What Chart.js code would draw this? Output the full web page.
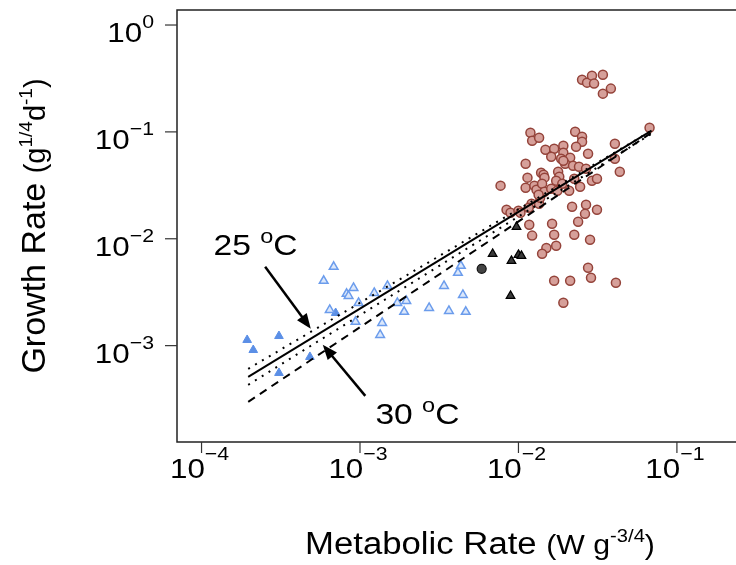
<!DOCTYPE html>
<html>
<head>
<meta charset="utf-8">
<script src="https://cdn.jsdelivr.net/npm/chart.js@4.4.1/dist/chart.umd.min.js"></script>
<style>
  html, body { margin: 0; padding: 0; background: #fff; }
</style>
</head>
<body>
<canvas id="myChart" width="736" height="565"></canvas>
<script>
'use strict';

// tick values and their exponent labels
const xTickValues = [1e-4, 1e-3, 1e-2, 1e-1];
const xTickExps = ['\u22124', '\u22123', '\u22122', '\u22121'];
const yTickValues = [1, 0.1, 0.01, 0.001];
const yTickExps = ['0', '\u22121', '\u22122', '\u22123'];

// brown circles
const circleX = [0.0252, 0.0271, 0.0291, 0.0300, 0.0341, 0.0383, 0.0341, 0.0119, 0.0122, 0.0135,
  0.0228, 0.0252, 0.0252, 0.0231, 0.0148, 0.0168, 0.0161, 0.0192, 0.0192, 0.0186,
  0.0212, 0.0197, 0.0221, 0.0241, 0.0267, 0.0275, 0.0406, 0.0406, 0.0436, 0.0672,
  0.0111, 0.0139, 0.0144, 0.0146, 0.0114, 0.0178, 0.0181, 0.0173, 0.0189, 0.0225,
  0.0245, 0.0291, 0.0313, 0.00771, 0.0111, 0.0126, 0.0130, 0.0141, 0.0146, 0.0161,
  0.0176, 0.0209, 0.0121, 0.0135, 0.0137, 0.0218, 0.0267, 0.0263, 0.0313, 0.00841,
  0.00891, 0.0100, 0.0103, 0.0238, 0.0117, 0.0163, 0.0122, 0.0168, 0.0225, 0.0283,
  0.0173, 0.0150, 0.0141, 0.0275, 0.0287, 0.0168, 0.0212, 0.0412, 0.0192, 0.0134,
  0.0116, 0.0192];
const circleY = [0.308, 0.289, 0.336, 0.283, 0.343, 0.254, 0.228, 0.0983, 0.0827, 0.0883,
  0.1004, 0.0902, 0.0809, 0.0727, 0.0681, 0.0696, 0.0586, 0.0743, 0.0639, 0.0561,
  0.0573, 0.0504, 0.0483, 0.0472, 0.0452, 0.0625, 0.0775, 0.0561, 0.0424, 0.1095,
  0.0504, 0.0415, 0.0397, 0.0373, 0.0373, 0.0424, 0.0381, 0.0349, 0.0327, 0.0365,
  0.0307, 0.0349, 0.0365, 0.0314, 0.0300, 0.0314, 0.0288, 0.0327, 0.0275, 0.0294,
  0.0281, 0.0281, 0.0213, 0.0213, 0.0242, 0.0199, 0.0208, 0.0171, 0.0187, 0.0187,
  0.0175, 0.0183, 0.0175, 0.0144, 0.0135, 0.0138, 0.0107, 0.0109, 0.0109, 0.0098,
  0.0086, 0.0082, 0.00724, 0.00535, 0.00431, 0.00404, 0.00404, 0.00387, 0.00252, 0.0258,
  0.0195, 0.0537];

// open blue triangles
const openTriX = [6.82e-4, 5.90e-4, 6.44e-4, 8.23e-4, 8.47e-4, 9.10e-4, 9.79e-4, 9.37e-4, 1.23e-3, 1.49e-3,
  1.38e-3, 1.34e-3, 1.72e-3, 1.96e-3, 1.90e-3, 2.73e-3, 3.39e-3, 4.33e-3, 4.15e-3, 4.46e-3,
  3.64e-3, 4.65e-3];
const openTriY = [5.46e-3, 4.04e-3, 2.16e-3, 3.05e-3, 2.92e-3, 3.47e-3, 2.51e-3, 1.67e-3, 3.11e-3, 3.62e-3,
  1.63e-3, 1.26e-3, 2.51e-3, 2.62e-3, 2.07e-3, 2.25e-3, 3.62e-3, 5.58e-3, 4.80e-3, 2.98e-3,
  2.11e-3, 2.07e-3];

// filled blue triangles
const fillTriX = [1.94e-4, 2.12e-4, 3.08e-4, 3.08e-4, 4.83e-4, 7.02e-4];
const fillTriY = [1.13e-3, 9.1e-4, 1.23e-3, 5.55e-4, 7.84e-4, 2.02e-3];

// black triangles and black circle
const blackTriX = [9.72e-3, 6.87e-3, 0.0100, 0.01044, 9.03e-3, 8.91e-3];
const blackTriY = [0.01292, 7.22e-3, 7.07e-3, 6.92e-3, 6.21e-3, 2.92e-3];
const blackDotX = [5.86e-3];
const blackDotY = [5.23e-3];

// fitted lines (end points)
const fitX = [1.97e-4, 0.0692];
const fit25Y = [5.10e-4, 0.1026];
const fit30Y = [2.98e-4, 0.0983];
const upperY = [6.07e-4, 0.1026];
const lowerY = [4.30e-4, 0.0962];

// annotations
const arrow25 = [[2.52e-4, 5.47e-3], [4.89e-4, 1.44e-3]];
const arrow30 = [[1.08e-3, 3.39e-4], [5.82e-4, 1.02e-3]];
const label25 = [1.19e-4, 7.08e-3];
const label30 = [1.251e-3, 1.853e-4];

const SX = 1.12;
const FONT = '"Liberation Sans", Arial, Helvetica, sans-serif';

function pts(xs, ys) {
  return xs.map((x, i) => ({ x: x, y: ys[i] }));
}

function drawParts(ctx, parts, x, y, align, rotate) {
  let w = 0;
  parts.forEach(p => {
    ctx.font = p[1] + 'px ' + FONT;
    w += ctx.measureText(p[0]).width;
  });
  ctx.save();
  ctx.translate(x, y);
  if (rotate) ctx.rotate(-Math.PI / 2);
  else ctx.scale(SX, 1);
  let cx = align === 'center' ? -w / 2 : (align === 'right' ? -w : 0);
  ctx.textAlign = 'left';
  ctx.textBaseline = 'alphabetic';
  ctx.fillStyle = '#000';
  parts.forEach(p => {
    ctx.font = p[1] + 'px ' + FONT;
    ctx.fillText(p[0], cx, -(p[2] || 0));
    cx += ctx.measureText(p[0]).width;
  });
  ctx.restore();
}

function arrow(ctx, x0, y0, x1, y1) {
  const a = Math.atan2(y1 - y0, x1 - x0);
  const len = 15, hw = 6;
  ctx.save();
  ctx.strokeStyle = '#000';
  ctx.fillStyle = '#000';
  ctx.lineWidth = 2.5;
  ctx.beginPath();
  ctx.moveTo(x0, y0);
  ctx.lineTo(x1 - Math.cos(a) * len * 0.8, y1 - Math.sin(a) * len * 0.8);
  ctx.stroke();
  ctx.beginPath();
  ctx.moveTo(x1, y1);
  ctx.lineTo(x1 - Math.cos(a) * len + Math.sin(a) * hw, y1 - Math.sin(a) * len - Math.cos(a) * hw);
  ctx.lineTo(x1 - Math.cos(a) * len - Math.sin(a) * hw, y1 - Math.sin(a) * len + Math.cos(a) * hw);
  ctx.closePath();
  ctx.fill();
  ctx.restore();
}

const framePlugin = {
  id: 'frame',
  afterDraw: (chart) => {
    const { ctx, chartArea } = chart;
    const xs = chart.scales.x, ys = chart.scales.y;
    const L = chartArea.left, T = chartArea.top, B = chartArea.bottom, R = chartArea.right;

    ctx.save();
    ctx.strokeStyle = '#222';
    ctx.lineWidth = 1.5;
    ctx.beginPath();
    ctx.moveTo(R + 2, T);
    ctx.lineTo(L, T);
    ctx.lineTo(L, B);
    ctx.lineTo(R + 2, B);
    ctx.stroke();

    // ticks
    ctx.lineWidth = 1.2;
    ctx.strokeStyle = '#333';
    xTickValues.forEach((v, i) => {
      const px = xs.getPixelForValue(v);
      ctx.beginPath();
      ctx.moveTo(px, B);
      ctx.lineTo(px, B + 11);
      ctx.stroke();
      drawParts(ctx, [['10', 28], [xTickExps[i], 19, 18]], px - 2, B + 36, 'center');
    });
    yTickValues.forEach((v, i) => {
      const py = ys.getPixelForValue(v);
      ctx.beginPath();
      ctx.moveTo(L, py);
      ctx.lineTo(L - 12, py);
      ctx.stroke();
      drawParts(ctx, [['10', 28], [yTickExps[i], 19, 14]], 154, py + 17, 'right');
    });
    ctx.restore();

    // axis titles
    drawParts(ctx, [['Metabolic Rate ', 31], ['(W g', 27], ['-3/4', 18, 12], [')', 27]], 480, 554, 'center');
    drawParts(ctx, [['Growth Rate ', 34], ['(g', 29], ['1/4', 19, 13], ['d', 29], ['-1', 19, 13], [')', 29]], 45, 226, 'center', true);

    // annotations
    const a1 = arrow25.map(p => [xs.getPixelForValue(p[0]), ys.getPixelForValue(p[1])]);
    const a2 = arrow30.map(p => [xs.getPixelForValue(p[0]), ys.getPixelForValue(p[1])]);
    arrow(ctx, a1[0][0], a1[0][1], a1[1][0], a1[1][1]);
    arrow(ctx, a2[0][0], a2[0][1], a2[1][0], a2[1][1]);
    drawParts(ctx, [['25 ', 30], ['o', 21, 12], ['C', 30]],
      xs.getPixelForValue(label25[0]), ys.getPixelForValue(label25[1]), 'left');
    drawParts(ctx, [['30 ', 30], ['o', 21, 12], ['C', 30]],
      xs.getPixelForValue(label30[0]), ys.getPixelForValue(label30[1]), 'left');
  }
};

const lineStyle = { showLine: true, pointRadius: 0, borderColor: '#000', fill: false, order: 0 };

const ctx = document.getElementById('myChart').getContext('2d');

const myChart = new Chart(ctx, {
  type: 'scatter',
  data: {
    datasets: [
      Object.assign({ label: '25 fit', data: pts(fitX, fit25Y), borderWidth: 2 }, lineStyle),
      Object.assign({ label: '30 fit', data: pts(fitX, fit30Y), borderWidth: 2, borderDash: [8, 6] }, lineStyle),
      Object.assign({ label: 'upper', data: pts(fitX, upperY), borderWidth: 2, borderDash: [2, 6] }, lineStyle),
      Object.assign({ label: 'lower', data: pts(fitX, lowerY), borderWidth: 2, borderDash: [2, 6] }, lineStyle),
      {
        label: 'circles', data: pts(circleX, circleY), order: 1,
        pointStyle: 'circle', pointRadius: 4.5, borderWidth: 1.5,
        backgroundColor: '#D6A09A', borderColor: '#94433A'
      },
      {
        label: 'open triangles', data: pts(openTriX, openTriY), order: 1,
        pointStyle: 'triangle', pointRadius: 5, borderWidth: 1.5,
        backgroundColor: '#DCE8FB', borderColor: '#6B9CEC'
      },
      {
        label: 'filled triangles', data: pts(fillTriX, fillTriY), order: 1,
        pointStyle: 'triangle', pointRadius: 5, borderWidth: 1,
        backgroundColor: '#5B8FE6', borderColor: '#5B8FE6'
      },
      {
        label: 'black triangles', data: pts(blackTriX, blackTriY), order: 1,
        pointStyle: 'triangle', pointRadius: 5, borderWidth: 1.2,
        backgroundColor: '#3A3A3A', borderColor: '#000'
      },
      {
        label: 'black circle', data: pts(blackDotX, blackDotY), order: 1,
        pointStyle: 'circle', pointRadius: 4.5, borderWidth: 1.2,
        backgroundColor: '#444', borderColor: '#111'
      }
    ]
  },
  options: {
    responsive: false,
    animation: false,
    devicePixelRatio: 1,
    layout: { autoPadding: false, padding: { left: 177, top: 10, right: 0, bottom: 123 } },
    scales: {
      x: { type: 'logarithmic', min: 7.38e-5, max: 0.236, display: false },
      y: { type: 'logarithmic', min: 1.254e-4, max: 1.382, display: false }
    },
    plugins: {
      legend: { display: false },
      tooltip: { enabled: false }
    }
  },
  plugins: [framePlugin]
});
</script>
</body>
</html>
